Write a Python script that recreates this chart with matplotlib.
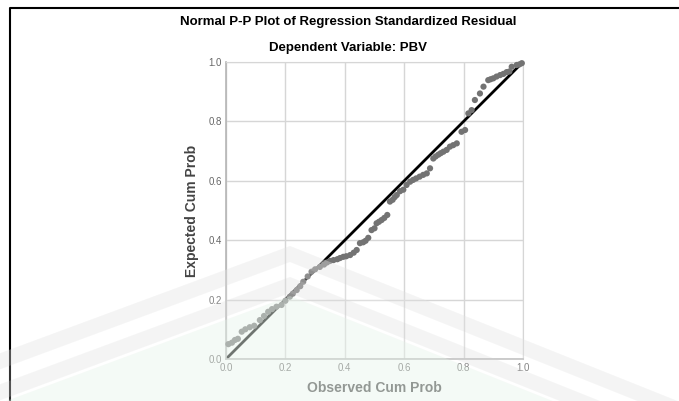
import matplotlib
matplotlib.use("Agg")
import matplotlib.pyplot as plt
from matplotlib.patches import Polygon

plt.rcParams['font.family'] = ['Liberation Sans', 'DejaVu Sans']

title = "Normal P-P Plot of Regression Standardized Residual"
subtitle = "Dependent Variable: PBV"
x_label = "Observed Cum Prob"
y_label = "Expected Cum Prob"
ticks = [0.0, 0.2, 0.4, 0.6, 0.8, 1.0]
tick_labels = ["0.0", "0.2", "0.4", "0.6", "0.8", "1.0"]

observed = [0.008, 0.020, 0.030, 0.040, 0.053, 0.065, 0.080, 0.095, 0.114, 0.128,
            0.142, 0.155, 0.170, 0.187, 0.200, 0.215, 0.225, 0.238, 0.250, 0.260,
            0.275, 0.288, 0.300, 0.316, 0.330, 0.340, 0.350, 0.362, 0.375, 0.384,
            0.395, 0.405, 0.418, 0.430, 0.440, 0.451, 0.462, 0.470, 0.479, 0.490,
            0.500, 0.507, 0.515, 0.524, 0.533, 0.543, 0.552, 0.561, 0.568, 0.575,
            0.586, 0.597, 0.608, 0.620, 0.630, 0.640, 0.652, 0.664, 0.676, 0.687,
            0.698, 0.706, 0.715, 0.723, 0.732, 0.743, 0.754, 0.765, 0.777, 0.793,
            0.805, 0.816, 0.827, 0.838, 0.855, 0.867, 0.883, 0.891, 0.900, 0.911,
            0.923, 0.934, 0.945, 0.954, 0.962, 0.979, 0.988, 0.996]
expected = [0.050, 0.055, 0.064, 0.068, 0.092, 0.100, 0.107, 0.112, 0.131, 0.145,
            0.159, 0.168, 0.176, 0.182, 0.196, 0.210, 0.220, 0.232, 0.245, 0.260,
            0.278, 0.294, 0.302, 0.310, 0.318, 0.325, 0.330, 0.333, 0.336, 0.340,
            0.344, 0.346, 0.350, 0.358, 0.367, 0.390, 0.393, 0.398, 0.408, 0.434,
            0.440, 0.457, 0.462, 0.468, 0.475, 0.485, 0.530, 0.536, 0.545, 0.552,
            0.565, 0.570, 0.586, 0.597, 0.603, 0.608, 0.614, 0.620, 0.625, 0.642,
            0.675, 0.682, 0.688, 0.693, 0.698, 0.704, 0.715, 0.720, 0.726, 0.765,
            0.771, 0.827, 0.838, 0.872, 0.894, 0.917, 0.939, 0.942, 0.945, 0.951,
            0.956, 0.960, 0.966, 0.968, 0.984, 0.990, 0.992, 0.996]

W, H = 679, 401
fig = plt.figure(figsize=(W / 100, H / 100), dpi=100)
fig.patch.set_facecolor('white')

# frame lines of the original output window
frame = fig.add_axes([0, 0, 1, 1], zorder=0)
frame.set_xlim(0, W)
frame.set_ylim(H, 0)
frame.axis('off')
frame.plot([10, 10, W + 5], [H + 5, 8, 8], color='black', lw=1.5)

ax = fig.add_axes([226 / W, (H - 359) / H, 297 / W, 297 / H], zorder=1)
ax.set_xlim(0, 1)
ax.set_ylim(0, 1)
ax.set_xticks(ticks)
ax.set_yticks(ticks)
ax.set_xticklabels(tick_labels)
ax.set_yticklabels(tick_labels)
ax.tick_params(length=0, labelsize=7, labelcolor='#666666', pad=3)
ax.grid(True, color='#d6d6d6', lw=1)
ax.set_axisbelow(True)
for s in ['top', 'right']:
    ax.spines[s].set_color('#d6d6d6')
for s in ['left', 'bottom']:
    ax.spines[s].set_color('#b5b5b5')
    ax.spines[s].set_linewidth(1.2)

ax.plot([0, 1], [0, 1], color='black', lw=2, zorder=2)
ax.scatter(observed, expected, s=20, color='#737373', edgecolors='none', zorder=3, clip_on=False)

ax.set_xlabel(x_label, fontsize=10, fontweight='bold', color='#444444', labelpad=6)
ax.set_ylabel(y_label, fontsize=10, fontweight='bold', color='#444444', labelpad=7)

fig.text(348 / W, 1 - 22 / H, title, ha='center', va='center', fontsize=9.5,
         fontweight='bold', color='black')
fig.text(348 / W, 1 - 48 / H, subtitle, ha='center', va='center', fontsize=9.5,
         fontweight='bold', color='black')

# faint watermark overlay
wm = fig.add_axes([0, 0, 1, 1], zorder=5)
wm.set_xlim(0, W)
wm.set_ylim(H, 0)
wm.axis('off')
apex_x = 290
sl, sr = 0.37, 0.40

def band(top, thick):
    xl, xr = -10, W + 10
    pts = [(xl, top + sl * (apex_x - xl)), (apex_x, top), (xr, top + sr * (xr - apex_x)),
           (xr, top + thick + sr * (xr - apex_x)), (apex_x, top + thick),
           (xl, top + thick + sl * (apex_x - xl))]
    return pts

wm.add_patch(Polygon(band(246, 16), closed=True, facecolor='#c8c8c8', alpha=0.22,
                     edgecolor='none'))
wm.add_patch(Polygon(band(277, 16), closed=True, facecolor='#c8c8c8', alpha=0.22,
                     edgecolor='none'))
g_top = 296
green = [(-10, g_top + sl * (apex_x + 10)), (apex_x, g_top),
         (W + 10, g_top + sr * (W + 10 - apex_x)), (W + 10, H + 10), (-10, H + 10)]
wm.add_patch(Polygon(green, closed=True, facecolor='#dcefe1', alpha=0.35, edgecolor='none'))
# general whitening of the watermark zone
whiten = [(-10, 246 + sl * (apex_x + 10)), (apex_x, 246),
          (W + 10, 246 + sr * (W + 10 - apex_x)), (W + 10, H + 10), (-10, H + 10)]
wm.add_patch(Polygon(whiten, closed=True, facecolor='white', alpha=0.2, edgecolor='none'))

fig.savefig('out.png', dpi=100, facecolor='white')
